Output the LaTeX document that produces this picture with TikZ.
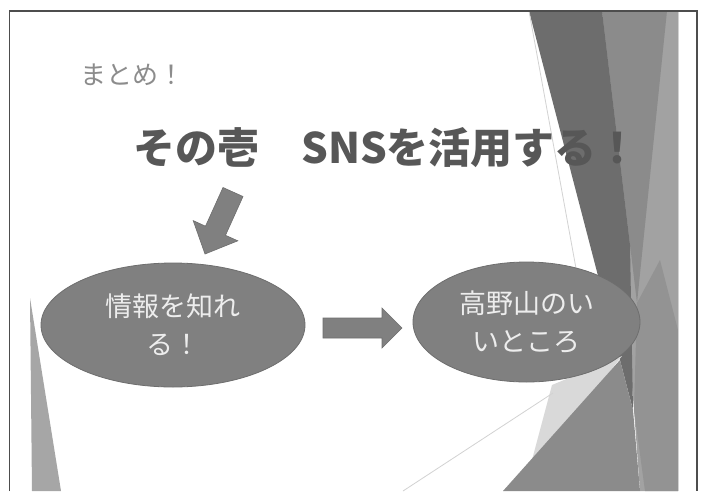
\documentclass[tikz,border=0pt]{standalone}
\usepackage{fontspec}
\newfontfamily\jp{Noto Sans CJK JP}
\usetikzlibrary{shapes.geometric}
\definecolor{frameline}{HTML}{4D4D4D}
\definecolor{darkband}{HTML}{6D6D6D}
\definecolor{midband}{HTML}{8B8B8B}
\definecolor{lightband}{HTML}{A2A2A2}
\definecolor{softband}{HTML}{939393}
\definecolor{palegray}{HTML}{D9D9D9}
\definecolor{thinline}{HTML}{D2D2D2}
\definecolor{shapefill}{HTML}{808080}
\definecolor{shapeedge}{HTML}{6E6E6E}
\definecolor{shapetext}{HTML}{EDEDED}
\definecolor{subtitle}{HTML}{8C8C8C}
\definecolor{titletext}{HTML}{575757}
\definecolor{lefttri}{HTML}{A6A6A6}
\begin{document}
\begin{tikzpicture}[x=1pt,y=-1pt,
  bubble/.style={ellipse, fill=shapefill, draw=shapeedge, line width=0.8pt,
    inner sep=0pt, align=center, text=shapetext,
    font=\jp\fontsize{27}{38}\selectfont},
  blockarrow/.style={fill=shapefill, draw=shapeedge, line width=0.6pt}]
\useasboundingbox (0,0) rectangle (705,491);
\fill[white] (0,0) rectangle (705,491);

% left decoration
\fill[lefttri] (30,298) -- (32,491) -- (61,491) -- cycle;

% right decoration
\fill[lightband] (602,11) -- (678,11) -- (678,491) -- (640,491) -- (634,410) -- cycle;
\fill[softband] (634,410) -- (637,303) -- (660,260) -- (678,330) -- (678,491) -- (645,491) -- cycle;
\fill[midband] (602,11) -- (667,11) -- (637,303) -- cycle;
\fill[darkband] (529,11) -- (602,11) -- (630,245) -- (633,410) -- cycle;
\draw[thinline, line width=0.8pt] (529,11) -- (590,345);
\fill[palegray] (552,385) -- (622,356) -- (528,475) -- cycle;
\fill[midband] (503,491) -- (620,360) -- (633,410) -- (640,491) -- cycle;
\draw[thinline, line width=0.8pt] (403,491) -- (553,393);
\draw[thinline, line width=0.6pt] (678,11) -- (678,491);

% frame
\draw[frameline, line width=1.5pt] (9.5,491) -- (9.5,11) -- (697,11) -- (697,491);

% texts
\node[anchor=west, inner sep=0pt, text=subtitle, font=\jp\fontsize{26}{26}\selectfont]
  (sub) at (80,75) {まとめ！};
\node[anchor=west, inner sep=0pt, text=titletext, font=\jp\bfseries\fontsize{42}{42}\selectfont]
  (title) at (133,148) {その壱　SNSを活用する！};

% block arrows
\fill[blockarrow] (243.0,196.5) -- (225.5,235.3) -- (237.8,240.8) -- (205.0,254.0)
  -- (193.2,220.6) -- (205.5,226.2) -- (223.0,187.5) -- cycle;
\fill[blockarrow] (323,318) -- (382,318) -- (382,308) -- (402,328) -- (382,348)
  -- (382,338) -- (323,338) -- cycle;

% ellipses
\node[bubble, minimum width=264pt, minimum height=124pt] (info) at (173,325)
  {情報を知れ\\る！};
\node[bubble, minimum width=227pt, minimum height=120pt] (koya) at (526.5,322)
  {高野山のい\\いところ};
\end{tikzpicture}
\end{document}
